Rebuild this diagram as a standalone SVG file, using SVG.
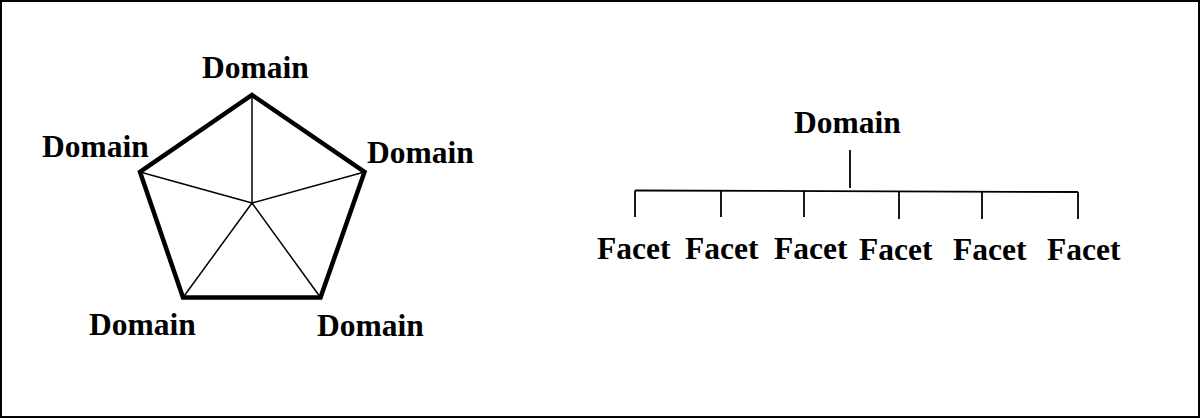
<svg xmlns="http://www.w3.org/2000/svg" width="1201" height="419" viewBox="0 0 1201 419">
<style>
.t{font-family:"Liberation Serif","Times New Roman",serif;font-weight:bold;font-size:31.5px;fill:#000}
.thick{fill:none;stroke:#000;stroke-width:4.5;stroke-linejoin:miter}
.thin{fill:none;stroke:#000;stroke-width:1.5}
.tree{fill:none;stroke:#000;stroke-width:1.8}
</style>
<rect x="0" y="0" width="1201" height="419" fill="#fff"/>
<rect x="1" y="1" width="1198" height="416" fill="none" stroke="#000" stroke-width="2"/>
<g id="connectors">
<polygon class="thick" points="252,95 364.5,172 320.5,297.5 183,297.5 140,172"/>
<g class="thin">
<line x1="252" y1="203" x2="252" y2="95"/>
<line x1="252" y1="203" x2="364.5" y2="172"/>
<line x1="252" y1="203" x2="320.5" y2="297.5"/>
<line x1="252" y1="203" x2="183" y2="297.5"/>
<line x1="252" y1="203" x2="140" y2="172"/>
</g>
<g class="tree">
<line x1="850" y1="150" x2="850" y2="188"/>
<line x1="635" y1="190.5" x2="1078" y2="192"/>
<line x1="635" y1="190.5" x2="635" y2="217"/>
<line x1="721" y1="190.8" x2="721" y2="217"/>
<line x1="804" y1="191" x2="804" y2="217"/>
<line x1="899" y1="191.3" x2="899" y2="219"/>
<line x1="982" y1="191.7" x2="982" y2="219"/>
<line x1="1078" y1="192" x2="1078" y2="219"/>
</g>
</g>
<g id="domain-top"><text class="t" x="202" y="78">Domain</text></g>
<g id="domain-left"><text class="t" x="42" y="157">Domain</text></g>
<g id="domain-right"><text class="t" x="367" y="163">Domain</text></g>
<g id="domain-bottom-left"><text class="t" x="89" y="335">Domain</text></g>
<g id="domain-bottom-right"><text class="t" x="317" y="336">Domain</text></g>
<g id="domain-tree"><text class="t" x="794" y="133">Domain</text></g>
<g id="facet-1"><text class="t" x="597" y="259">Facet</text></g>
<g id="facet-2"><text class="t" x="685" y="259">Facet</text></g>
<g id="facet-3"><text class="t" x="774" y="259">Facet</text></g>
<g id="facet-4"><text class="t" x="859" y="260">Facet</text></g>
<g id="facet-5"><text class="t" x="953" y="260">Facet</text></g>
<g id="facet-6"><text class="t" x="1047" y="260">Facet</text></g>
</svg>
